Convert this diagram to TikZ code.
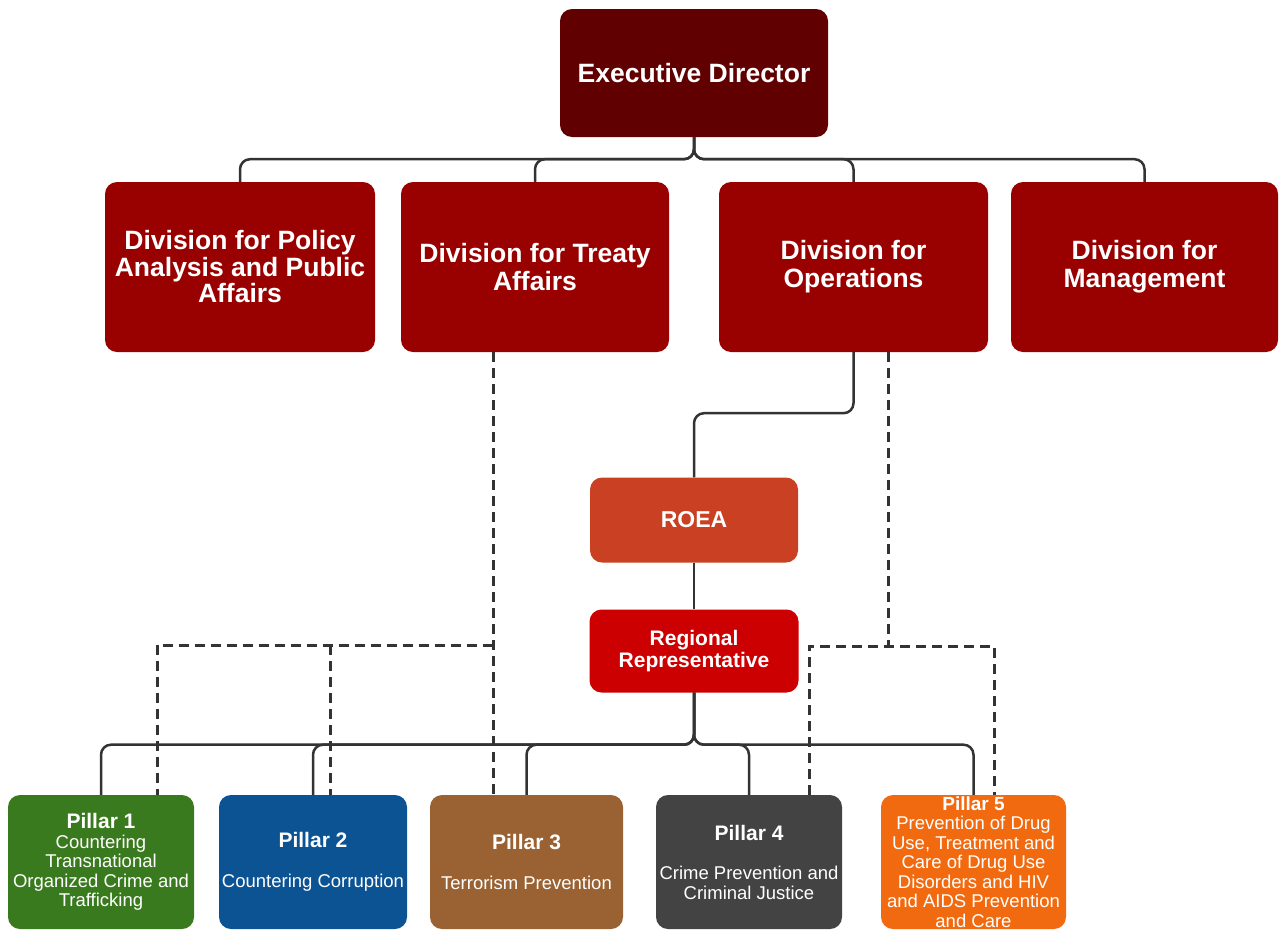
\documentclass[tikz,border=0pt]{standalone}
\usepackage{fontspec}
\setmainfont{Liberation Sans}
\usepackage{amsmath}

\definecolor{edred}{HTML}{600000}
\definecolor{divred}{HTML}{990000}
\definecolor{roeared}{HTML}{C94022}
\definecolor{rrred}{HTML}{CC0000}
\definecolor{pgreen}{HTML}{3A7A1E}
\definecolor{pblue}{HTML}{0C5394}
\definecolor{pbrown}{HTML}{9A6232}
\definecolor{pgrey}{HTML}{434343}
\definecolor{porange}{HTML}{F26A10}
\definecolor{linegrey}{HTML}{333333}

\begin{document}
\begin{tikzpicture}[x=1pt,y=-1pt]
                \useasboundingbox (0,0) rectangle (1279,929);
                \begin{scope}[every node/.style={rectangle,rounded corners=12pt,text=white,align=center,inner sep=0pt}]
                    \node (ED) [fill=edred, minimum width=268pt, minimum height=128pt, font=\bfseries\fontsize{26.5}{27}\selectfont] at (694,73) {Executive Director};
                    \node (D1) [fill=divred, minimum width=270pt, minimum height=170pt, font=\bfseries\fontsize{26.5}{26.5}\selectfont] at (240,267) {Division for Policy\\Analysis and Public\\Affairs};
                    \node (D2) [fill=divred, minimum width=268pt, minimum height=170pt, font=\bfseries\fontsize{26.5}{28}\selectfont] at (535,267) {Division for Treaty\\Affairs};
                    \node (D3) [fill=divred, minimum width=269pt, minimum height=170pt, font=\bfseries\fontsize{26.5}{28}\selectfont] at (853.5,267) {Division for\\Operations};
                    \node (D4) [fill=divred, minimum width=267pt, minimum height=170pt, font=\bfseries\fontsize{26.5}{28}\selectfont] at (1144.5,267) {Division for\\Management};
                    \node (R) [fill=roeared, minimum width=208pt, minimum height=85pt, font=\bfseries\fontsize{23}{24}\selectfont] at (694,520) {ROEA};
                    \node (RR) [fill=rrred, minimum width=209pt, minimum height=83pt, font=\bfseries\fontsize{21}{22}\selectfont] at (694,651) {Regional\\Representative};
                    \node (P1) [fill=pgreen, minimum width=186pt, minimum height=134pt, font=\fontsize{18.5}{19.5}\selectfont] at (101,862) {{\bfseries\fontsize{21}{19.5}\selectfont Pillar 1}\\Countering\\Transnational\\Organized Crime and\\Trafficking};
                    \node (P2) [fill=pblue, minimum width=188pt, minimum height=134pt, font=\fontsize{18.5}{19.5}\selectfont] at (313,862) {{\bfseries\fontsize{21}{19.5}\selectfont Pillar 2}\\[20pt]Countering Corruption};
                    \node (P3) [fill=pbrown, minimum width=193pt, minimum height=134pt, font=\fontsize{18.5}{19.5}\selectfont] at (526.5,862) {{\bfseries\fontsize{21}{19.5}\selectfont Pillar 3}\\[20pt]Terrorism Prevention};
                    \node (P4) [fill=pgrey, minimum width=186pt, minimum height=134pt, font=\fontsize{18.5}{19.5}\selectfont] at (749,862) {{\bfseries\fontsize{21}{19.5}\selectfont Pillar 4}\\[20pt]Crime Prevention and\\Criminal Justice};
                    \node (P5) [fill=porange, minimum width=185pt, minimum height=134pt, font=\fontsize{18.5}{19.5}\selectfont] at (973.5,862) {{\bfseries\fontsize{19}{19.5}\selectfont Pillar 5}\\Prevention of Drug\\Use, Treatment and\\Care of Drug Use\\Disorders and HIV\\and AIDS Prevention\\and Care};
                \end{scope}
                \coordinate (T1) at (157,645);
                \coordinate (T2) at (330,645);
                \coordinate (T3) at (493,645);
                \coordinate (S0) at (888,646);
                \coordinate (S1) at (809,646);
                \coordinate (S2) at (994,646);
                \begin{scope}[draw=linegrey, line width=2.5pt, rounded corners=10pt]
                    \foreach \d in {D1,D2,D3,D4}
                        \draw (ED.south) -- ++(0,22) -| (\d.north);
                    \draw (D3.south) -- ++(0,61) -| (R.north);
                    \draw (R) -- (RR);
                    \foreach \p in {P1,P2,P3,P4,P5}
                        \draw (RR.south) -- ++(0,52) -| (\p.north);
                \end{scope}
                \begin{scope}[draw=linegrey, line width=3pt, dash pattern=on 10pt off 6pt]
                    \draw (D2.south -| T3) -- (P3.north -| T3);
                    \draw (T3) -- (T1) -- (P1.north -| T1);
                    \draw (T2) -- (P2.north -| T2);
                    \draw (D3.south -| S0) -- (S0);
                    \draw (P4.north -| S1) -- (S1) -- (S2) -- (P5.north -| S2);
                \end{scope}
            \end{tikzpicture}
\end{document}
